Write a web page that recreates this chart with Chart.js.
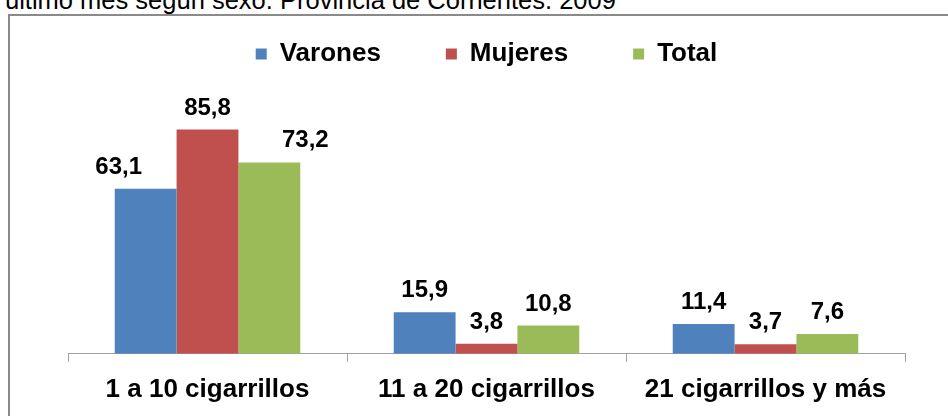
<!DOCTYPE html>
<html>
<head>
<meta charset="utf-8">
<script src="https://cdn.jsdelivr.net/npm/chart.js@4.4.1/dist/chart.umd.min.js"></script>
<style>
  html, body { margin: 0; padding: 0; background: #fff; width: 948px; height: 416px; overflow: hidden; }
  #title { position: absolute; left: 5px; top: -12px; font: 25.5px "Liberation Sans", Arial, sans-serif; color: #000; white-space: nowrap; line-height: 25px; }
  #frame { position: absolute; left: 8px; top: 14px; width: 1200px; height: 600px; border-left: 2px solid #8a8a8a; border-top: 2px solid #8a8a8a; }
  #wrap { position: absolute; left: 0; top: 0; width: 948px; height: 416px; }
</style>
</head>
<body>
<div id="title">último mes según sexo. Provincia de Corrientes. 2009</div>
<div id="frame"></div>
<div id="wrap"><canvas id="c" width="948" height="416"></canvas></div>
<script>
const categories = ["1 a 10 cigarrillos", "11 a 20 cigarrillos", "21 cigarrillos y más"];
const varones = [63.1, 15.9, 11.4];
const mujeres = [85.8, 3.8, 3.7];
const total = [73.2, 10.8, 7.6];
const seriesNames = ["Varones", "Mujeres", "Total"];
const seriesColors = ["#4F81BD", "#C0504D", "#9BBB59"];

const fmt = v => v.toFixed(1).replace('.', ',');

const valueLabels = {
  id: 'valueLabels',
  afterDatasetsDraw(chart) {
    const ctx = chart.ctx;
    ctx.save();
    ctx.font = 'bold 24px "Liberation Sans", Arial, sans-serif';
    ctx.fillStyle = '#000';
    ctx.textAlign = 'center';
    ctx.textBaseline = 'alphabetic';
    const shift = [-27, 0, 36];
    chart.data.datasets.forEach((ds, di) => {
      const meta = chart.getDatasetMeta(di);
      meta.data.forEach((bar, i) => {
        const dx = i === 0 ? shift[di] : 0;
        ctx.fillText(fmt(ds.data[i]), bar.x + dx, bar.y - 15);
      });
    });
    ctx.restore();
  }
};

const datasets = [varones, mujeres, total].map((d, i) => ({
  label: seriesNames[i],
  data: d,
  backgroundColor: seriesColors[i],
  borderWidth: 0,
  categoryPercentage: 0.665,
  barPercentage: 1.0
}));

new Chart(document.getElementById('c'), {
  type: 'bar',
  data: { labels: categories, datasets },
  options: {
    responsive: false,
    animation: false,
    layout: { padding: { left: 68, right: 43, top: -24, bottom: -1 } },
    plugins: {
      legend: {
        display: true,
        position: 'top',
        labels: {
          boxWidth: 11,
          boxHeight: 11,
          padding: 65,
          color: '#000',
          font: { family: '"Liberation Sans", Arial, sans-serif', size: 26, weight: 'bold' }
        }
      },
      tooltip: { enabled: false },
      title: { display: false }
    },
    scales: {
      x: {
        grid: { display: true, drawOnChartArea: false, drawTicks: true, tickLength: 8, color: '#a0a0a0', offset: true },
        border: { display: true, color: '#a0a0a0', width: 1 },
        ticks: {
          color: '#000',
          padding: 12,
          font: { family: '"Liberation Sans", Arial, sans-serif', size: 26, weight: 'bold' }
        }
      },
      y: {
        display: false,
        min: 0,
        max: 105.9
      }
    }
  },
  plugins: [valueLabels]
});
</script>
</body>
</html>
